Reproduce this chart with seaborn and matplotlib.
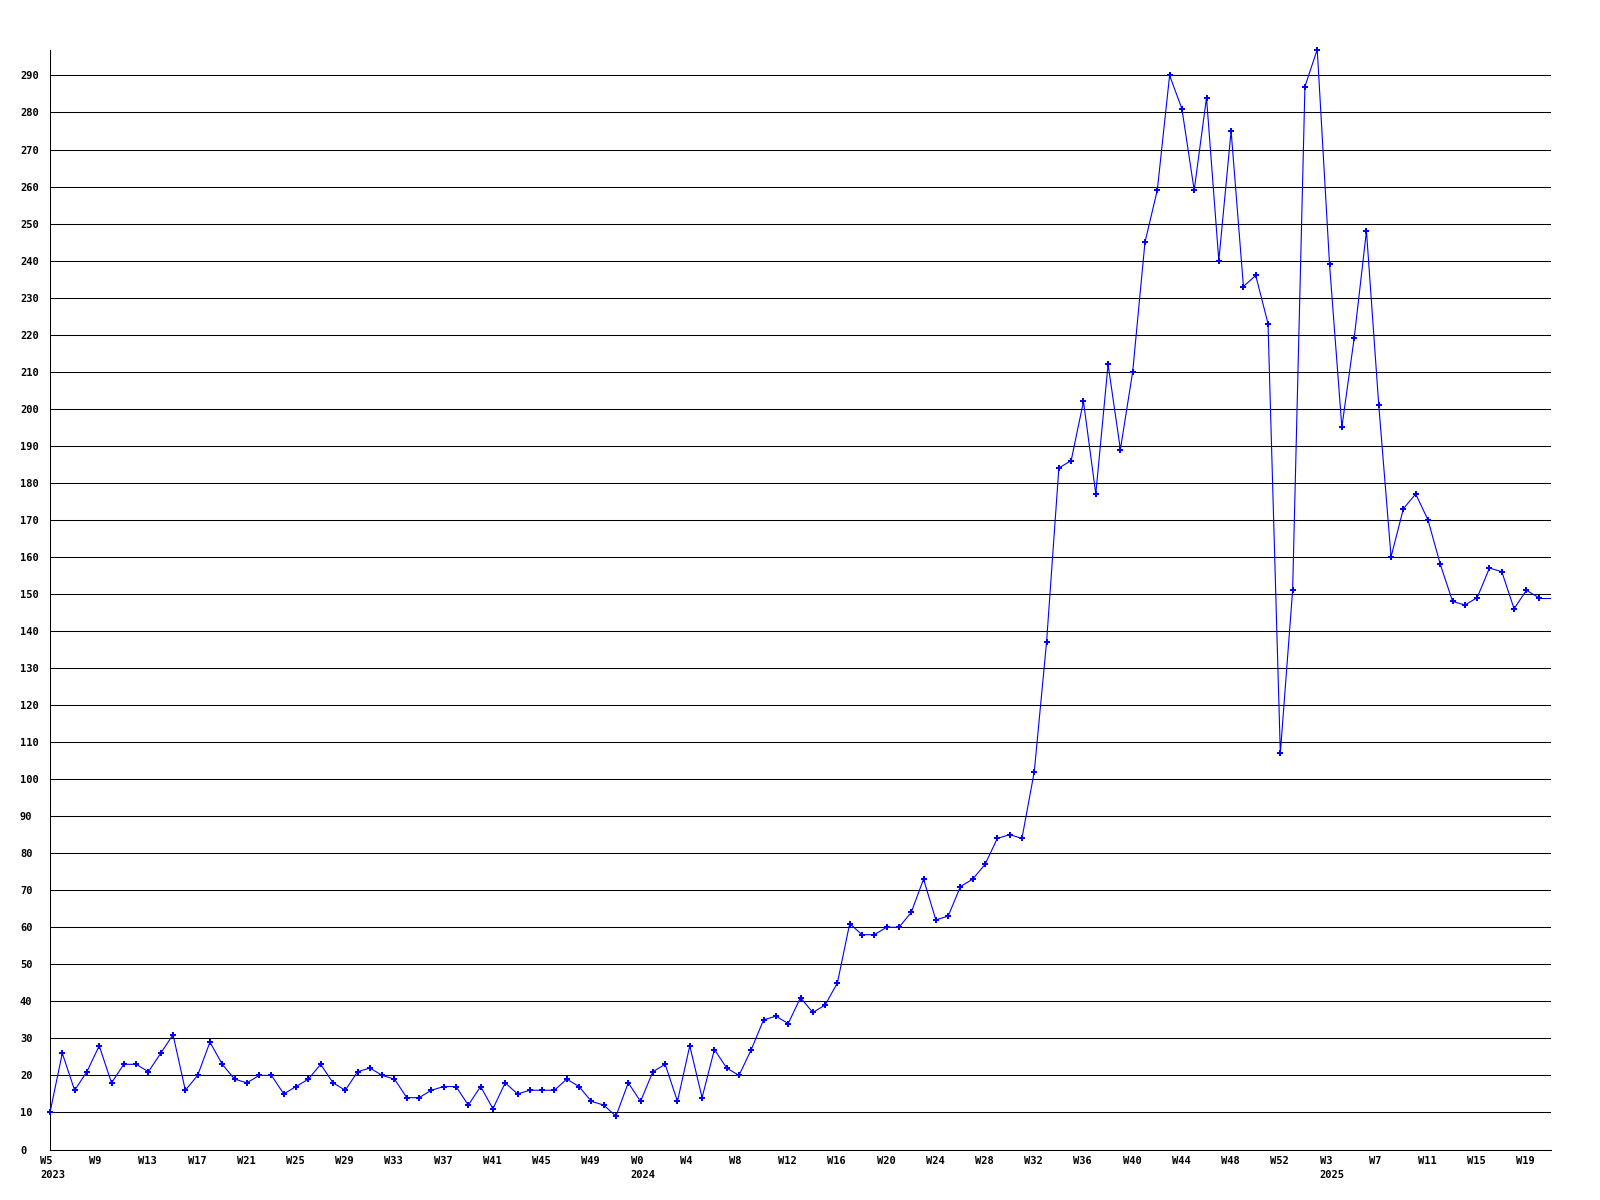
import matplotlib
matplotlib.use("Agg")
import matplotlib.pyplot as plt
import matplotlib.transforms as mtransforms
import seaborn as sns

# ---- data (weekly counts) ----
values = [10, 26, 16, 21, 28, 18, 23, 23, 21, 26, 31, 16, 20, 29, 23, 19, 18, 20, 20, 15,
          17, 19, 23, 18, 16, 21, 22, 20, 19, 14, 14,
          16, 17, 17, 12, 17, 11, 18, 15, 16, 16, 16, 19, 17, 13, 12, 9, 18, 13, 21, 23,
          13, 28, 14, 27, 22, 20, 27, 35, 36, 34, 41, 37, 39,
          45, 61, 58, 58, 60, 60, 64, 73, 62, 63, 71, 73, 77, 84, 85, 84,
          102, 137, 184, 186, 202, 177, 212, 189, 210, 245, 259, 290, 281, 259, 284, 240,
          275, 233, 236, 223, 107, 151, 287, 297, 239, 195, 219, 248, 201, 160, 173, 177,
          170, 158, 148, 147, 149, 157, 156, 146, 151, 149]

week_labels = ['W5', 'W9', 'W13', 'W17', 'W21', 'W25', 'W29', 'W33', 'W37', 'W41', 'W45',
               'W49', 'W0', 'W4', 'W8', 'W12', 'W16', 'W20', 'W24', 'W28', 'W32', 'W36',
               'W40', 'W44', 'W48', 'W52', 'W3', 'W7', 'W11', 'W15', 'W19']
label_step = 4
# year shown under these week labels
year_labels = {'W5': '2023', 'W0': '2024', 'W3': '2025'}

y_ticks = list(range(0, 300, 10))

# ---- style ----
sns.set_style("white")
plt.rcParams['font.family'] = ['DejaVu Sans Mono']
plt.rcParams['font.weight'] = 'bold'
plt.rcParams['text.color'] = 'black'
plt.rcParams['xtick.color'] = 'black'
plt.rcParams['ytick.color'] = 'black'

fig = plt.figure(figsize=(16, 12), dpi=100)
ax = fig.add_axes([50 / 1600, 50.5 / 1200, 1501 / 1600, 1100 / 1200])

x = list(range(len(values)))
sns.lineplot(x=x, y=values, ax=ax, color='#0000ff', linewidth=0.8,
             marker='P', markersize=4, markeredgewidth=0, clip_on=False, zorder=3)
# flat tail to the right edge
ax.plot([x[-1], len(values)], [values[-1], values[-1]], color='#0000ff', lw=0.8, zorder=3)

ax.set_xlim(0, len(values))
ax.set_ylim(0, max(values))

# gridlines
ax.set_yticks(y_ticks)
ax.set_yticklabels([str(v) for v in y_ticks], ha='left', fontsize=7.5,
                   fontweight='bold', color='black')
ax.grid(axis='y', color='black', linewidth=0.75)
ax.set_axisbelow(True)
ax.tick_params(axis='y', length=0, pad=21.6, labelcolor='black')

# x labels
ticks = [i * label_step for i in range(len(week_labels))]
labels = [w + ('\n' + year_labels[w] if w in year_labels else '') for w in week_labels]
ax.set_xticks(ticks)
ax.set_xticklabels(labels, ha='left', va='top', fontsize=7.5, fontweight='bold',
                   linespacing=1.45, color='black')
ax.tick_params(axis='x', length=0, pad=5, labelcolor='black')
shift = mtransforms.ScaledTranslation(-10 / 100, 0, fig.dpi_scale_trans)
for lbl in ax.get_xticklabels():
    lbl.set_transform(lbl.get_transform() + shift)

for s in ['top', 'right']:
    ax.spines[s].set_visible(False)
for s in ['left', 'bottom']:
    ax.spines[s].set_color('black')
    ax.spines[s].set_linewidth(0.75)

ax.set_xlabel('')
ax.set_ylabel('')

fig.savefig("out.png", dpi=100, facecolor='white')
